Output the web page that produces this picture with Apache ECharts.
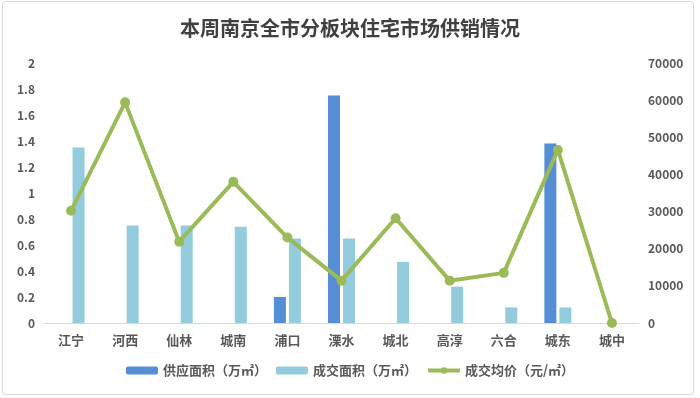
<!DOCTYPE html>
<html>
<head>
<meta charset="utf-8">
<script src="https://cdn.jsdelivr.net/npm/echarts@6/dist/echarts.min.js"></script>
<style>
html,body{margin:0;padding:0;background:#fff;}
#c{width:700px;height:398px;}
</style>
</head>
<body>
<div id="c"></div>
<script>
var categories = ['江宁','河西','仙林','城南','浦口','溧水','城北','高淳','六合','城东','城中'];
var supplyArea = [null, null, null, null, 0.2, 1.75, null, null, null, 1.38, null];
var dealArea = [1.35, 0.75, 0.75, 0.74, 0.65, 0.65, 0.47, 0.28, 0.12, 0.12, null];
var avgPrice = [30200, 59400, 21900, 38000, 23000, 11400, 28200, 11400, 13500, 46600, 0];
var leftTicks = { min: 0, max: 2, interval: 0.2 };
var rightTicks = { min: 0, max: 70000, interval: 10000 };

var font = '"Noto Sans CJK SC", "Microsoft YaHei", sans-serif';
var chart = echarts.init(document.getElementById('c'), null, { renderer: 'canvas' });
chart.setOption({
  animation: false,
  backgroundColor: '#ffffff',
  textStyle: { fontFamily: font },
  title: {
    text: '本周南京全市分板块住宅市场供销情况',
    left: 'center',
    top: 13,
    textStyle: { fontSize: 20, fontWeight: 'bold', color: '#404040', fontFamily: font }
  },
  graphic: [{
    type: 'rect',
    shape: { x: 2.5, y: 1.5, width: 691, height: 393, r: 3 },
    style: { fill: 'none', stroke: '#d9d9d9', lineWidth: 1 },
    silent: true
  }],
  legend: {
    bottom: 16,
    left: 'center',
    itemWidth: 32,
    itemHeight: 8,
    itemGap: 9,
    textStyle: { fontSize: 13, fontWeight: 'bold', color: '#595959', fontFamily: font },
    data: [
      { name: '供应面积（万㎡）' },
      { name: '成交面积（万㎡）' },
      { name: '成交均价（元/㎡）', lineStyle: { width: 4 } }
    ]
  },
  grid: { left: 44, right: 61, top: 63, bottom: 75, containLabel: false },
  xAxis: {
    type: 'category',
    data: categories,
    axisLine: { lineStyle: { color: '#d9d9d9', width: 1 } },
    axisTick: { show: false },
    axisLabel: { fontSize: 13, fontWeight: 'bold', color: '#595959', margin: 11, fontFamily: font }
  },
  yAxis: [{
    type: 'value',
    min: leftTicks.min, max: leftTicks.max, interval: leftTicks.interval,
    splitLine: { show: false },
    axisLine: { show: false },
    axisTick: { show: false },
    axisLabel: { fontSize: 12, fontWeight: 'bold', color: '#595959', margin: 9, fontFamily: font }
  }, {
    type: 'value',
    min: rightTicks.min, max: rightTicks.max, interval: rightTicks.interval,
    splitLine: { show: false },
    axisLine: { show: false },
    axisTick: { show: false },
    axisLabel: {
      fontSize: 12, fontWeight: 'bold', color: '#595959', margin: 9, fontFamily: font,
      formatter: function (v) { return String(v); }
    }
  }],
  series: [{
    name: '供应面积（万㎡）',
    type: 'bar',
    data: supplyArea,
    barWidth: 12,
    barGap: '25%',
    itemStyle: { color: '#558ED5' }
  }, {
    name: '成交面积（万㎡）',
    type: 'bar',
    data: dealArea,
    barWidth: 12,
    barGap: '25%',
    itemStyle: { color: '#93CDDD' }
  }, {
    name: '成交均价（元/㎡）',
    type: 'line',
    yAxisIndex: 1,
    data: avgPrice,
    symbol: 'circle',
    symbolSize: 10,
    lineStyle: { color: '#9BBB59', width: 4 },
    itemStyle: { color: '#9BBB59' }
  }]
});
</script>
</body>
</html>
